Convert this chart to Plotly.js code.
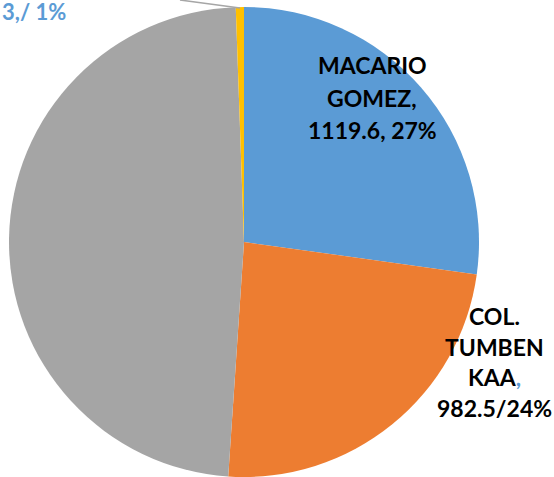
<!DOCTYPE html>
<html>
<head>
<meta charset="utf-8">
<script src="https://cdn.plot.ly/plotly-3.0.1.min.js"></script>
<style>html,body{margin:0;padding:0;background:#fff;}#chart{width:554px;height:477px;}</style>
</head>
<body>
<div id="chart"></div>
<script>
// Data
var categories = ["MACARIO GOMEZ", "COL. TUMBEN KAA", "OTROS", "OTRO"];
var values = [1119.6, 982.5, 1991, 23];
var colors = ["#5B9BD5", "#ED7D31", "#A5A5A5", "#FFC000"];
var labelLines0 = ["MACARIO", "GOMEZ,", "1119.6, 27%"];
var labelLines1 = ["COL.", "TUMBEN", "KAA<span style='color:#5B9BD5'>,</span>", "982.5/24%"];
var labelText3 = "3,/ 1%";

var W = 554, H = 477;
var cx = 244, cy = 242, r = 235;

var trace = {
  type: "pie",
  labels: categories,
  values: values,
  sort: false,
  direction: "clockwise",
  rotation: 0,
  textinfo: "none",
  hoverinfo: "label+value+percent",
  marker: {colors: colors, line: {width: 0}},
  domain: {x: [(cx - r) / W, (cx + r) / W], y: [(H - cy - r) / H, (H - cy + r) / H]},
  showlegend: false
};

var font = {family: "Lato, 'Open Sans', sans-serif", size: 23, color: "#000"};
var annotations = [];
function addLines(lines, xc, y0, dy) {
  lines.forEach(function (t, i) {
    annotations.push({x: xc / W, y: 1 - (y0 + i * dy) / H, text: "<b>" + t + "</b>", showarrow: false,
      xref: "paper", yref: "paper", xanchor: "center", yanchor: "middle", font: font});
  });
}
addLines(labelLines0, 372, 65, 32.5);
addLines(labelLines1, 494, 316, 30.7);
annotations.push({x: 68 / W, y: 1 - 12 / H, text: "<b>" + labelText3 + "</b>", showarrow: false,
  xref: "paper", yref: "paper", xanchor: "right", yanchor: "middle",
  font: {family: font.family, size: 22, color: "#5B9BD5"}});

var layout = {
  width: W, height: H,
  margin: {l: 0, r: 0, t: 0, b: 0},
  paper_bgcolor: "#fff",
  annotations: annotations,
  shapes: [
    {type: "line", xref: "paper", yref: "paper",
     x0: 240 / W, y0: 1 - 8 / H, x1: 180 / W, y1: 1 - 0 / H,
     line: {color: "#A6A6A6", width: 1.5}}
  ]
};

Plotly.newPlot("chart", [trace], layout, {displayModeBar: false, staticPlot: true});
</script>
</body>
</html>
